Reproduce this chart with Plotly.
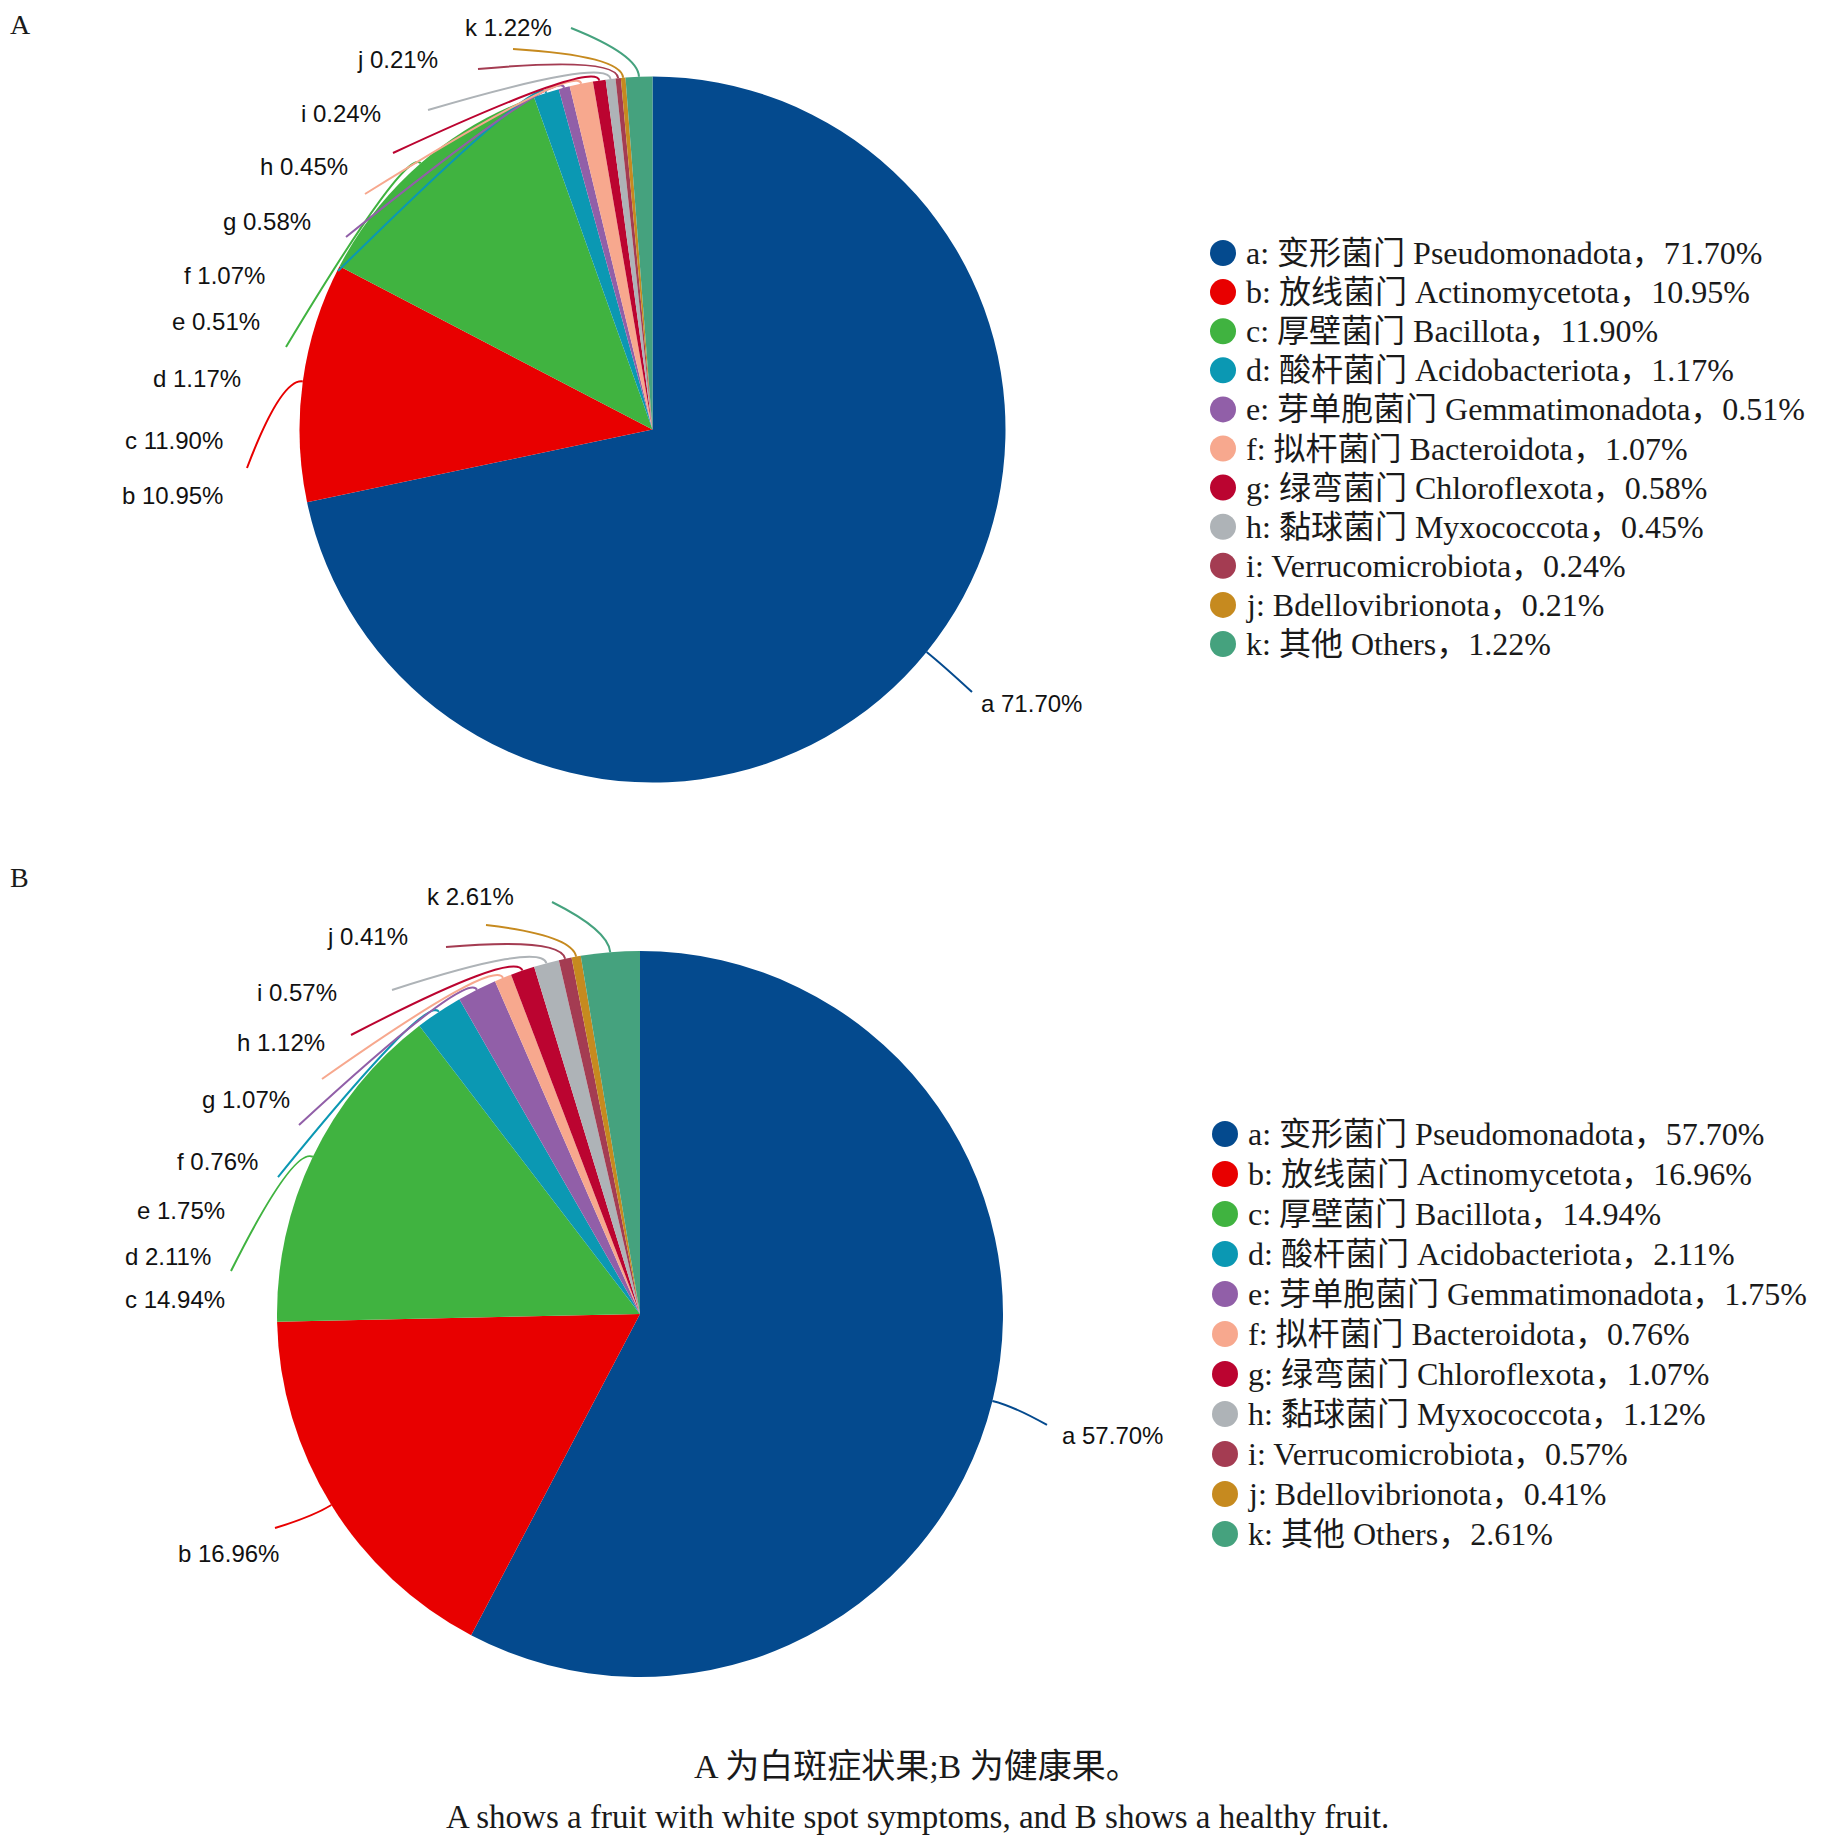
import math
import plotly.graph_objects as go

# ---------------- data ----------------
codes = ["a", "b", "c", "d", "e", "f", "g", "h", "i", "j", "k"]
names_cn = ["变形菌门", "放线菌门", "厚壁菌门", "酸杆菌门", "芽单胞菌门", "拟杆菌门",
            "绿弯菌门", "黏球菌门", "", "", "其他"]
names_en = ["Pseudomonadota", "Actinomycetota", "Bacillota", "Acidobacteriota",
            "Gemmatimonadota", "Bacteroidota", "Chloroflexota", "Myxococcota",
            "Verrucomicrobiota", "Bdellovibrionota", "Others"]
values_A = [71.70, 10.95, 11.90, 1.17, 0.51, 1.07, 0.58, 0.45, 0.24, 0.21, 1.22]
values_B = [57.70, 16.96, 14.94, 2.11, 1.75, 0.76, 1.07, 1.12, 0.57, 0.41, 2.61]
panel_titles = ["A", "B"]
caption_cn = "A 为白斑症状果;B 为健康果。"
caption_en = "A shows a fruit with white spot symptoms, and B shows a healthy fruit."

# ---------------- style / layout ----------------
W, H = 1835, 1844          # browser window
PAGE_MARGIN = 8            # default body margin of the page
FW, FH = W - 2 * PAGE_MARGIN, H - 2 * PAGE_MARGIN

colors = ["#044a8e", "#e80000", "#40b340", "#0b98b3", "#915fa8", "#f7a88e",
          "#bb0430", "#aeb3b7", "#a43c52", "#c68a1f", "#45a27e"]

PIES = [
    dict(cx=652.5, cy=429.5, r=353,
         label_pos=[(979, 703, "left"), (225, 496, "right"), (225, 441, "right"),
                    (243, 378, "right"), (262, 322, "right"), (267, 275, "right"),
                    (313, 221, "right"), (350, 166, "right"), (383, 113, "right"),
                    (440, 59, "right"), (554, 28, "right")],
         line_end=[(972, 692), (247, 468), (286, 347), (338, 271), (346, 237),
                   (365, 194), (393, 153), (428, 110), (478, 69), (513, 49), (571, 28)],
         title_xy=(9, 23), leg_x=1223, leg_y0=253, leg_dy=39.1),
    dict(cx=640, cy=1314, r=363,
         label_pos=[(1060, 1435, "left"), (281, 1553, "right"), (227, 1299, "right"),
                    (213, 1256, "right"), (227, 1210, "right"), (260, 1161, "right"),
                    (292, 1099, "right"), (327, 1042, "right"), (339, 992, "right"),
                    (410, 936, "right"), (516, 896, "right")],
         line_end=[(1047, 1425), (275, 1528), (231, 1271), (278, 1177), (299, 1125),
                   (322, 1079), (351, 1035), (392, 990), (446, 947), (486, 925), (552, 902)],
         title_xy=(9, 877), leg_x=1225, leg_y0=1134, leg_dy=40.0),
]

SERIF = "Liberation Serif, Times New Roman, Noto Sans CJK SC, serif"
SANS = "Liberation Sans, Arial, sans-serif"


def px(x):
    return (x - PAGE_MARGIN) / FW


def py(y):
    return 1 - (y - PAGE_MARGIN) / FH


fig = go.Figure()
shapes = []
annotations = []

for values, P, title in zip([values_A, values_B], PIES, panel_titles):
    cx, cy, r = P["cx"], P["cy"], P["r"]
    fig.add_trace(go.Pie(
        values=values, labels=codes, sort=False, direction="clockwise", rotation=0,
        marker=dict(colors=colors, line=dict(width=0)),
        textinfo="none", hoverinfo="label+percent", showlegend=False,
        domain=dict(x=[px(cx - r), px(cx + r)], y=[py(cy + r), py(cy - r)]),
    ))

    total = sum(values)
    cum = 0.0
    for i, v in enumerate(values):
        mid = (cum + v / 2) / total
        cum += v
        th = 2 * math.pi * mid
        dx, dy = math.sin(th), -math.cos(th)
        x0, y0 = cx + r * dx, cy + r * dy
        x1, y1 = x0 + 22 * dx, y0 + 22 * dy
        ex, ey = P["line_end"][i]
        path = (f"M {px(x0):.5f},{py(y0):.5f} Q {px(x1):.5f},{py(y1):.5f} "
                f"{px(ex):.5f},{py(ey):.5f}")
        shapes.append(dict(type="path", xref="paper", yref="paper", path=path,
                           line=dict(color=colors[i], width=2)))
        lx, ly, anc = P["label_pos"][i]
        annotations.append(dict(
            x=px(lx), y=py(ly), xref="paper", yref="paper", showarrow=False,
            xanchor=anc, yanchor="middle", text=f"{codes[i]} {v:.2f}%",
            font=dict(family=SANS, size=24, color="#111111")))

        # legend entry
        ly2 = P["leg_y0"] + i * P["leg_dy"]
        shapes.append(dict(type="circle", xref="paper", yref="paper",
                           xsizemode="pixel", ysizemode="pixel",
                           xanchor=px(P["leg_x"]), yanchor=py(ly2),
                           x0=-13, x1=13, y0=-13, y1=13,
                           fillcolor=colors[i], line=dict(width=0)))
        name = f"{names_cn[i]} {names_en[i]}" if names_cn[i] else names_en[i]
        annotations.append(dict(
            x=px(P["leg_x"] + 21), y=py(ly2), xref="paper", yref="paper",
            showarrow=False, xanchor="left", yanchor="middle",
            text=f"{codes[i]}: {name}，{v:.2f}%",
            font=dict(family=SERIF, size=32, color="#1a1a1a")))

    tx, ty = P["title_xy"]
    top = py(ty - 16) if py(ty - 16) < 1 else 1
    annotations.append(dict(x=px(tx), y=top, xref="paper", yref="paper",
                            showarrow=False, xanchor="left", yanchor="top",
                            borderpad=0,
                            text=title, font=dict(family=SERIF, size=28, color="#1a1a1a")))

annotations.append(dict(x=px(917), y=py(1766), xref="paper", yref="paper",
                        showarrow=False, xanchor="center", yanchor="middle",
                        text=caption_cn, font=dict(family=SERIF, size=34, color="#1a1a1a")))
annotations.append(dict(x=px(917), y=0, xref="paper", yref="paper",
                        showarrow=False, xanchor="center", yanchor="bottom",
                        borderpad=0,
                        text=caption_en, font=dict(family=SERIF, size=33, color="#1a1a1a")))

fig.update_layout(width=FW, height=FH, margin=dict(l=0, r=0, t=0, b=0),
                  paper_bgcolor="white", plot_bgcolor="white",
                  shapes=shapes, annotations=annotations, showlegend=False)

fig.write_html("out.html")
